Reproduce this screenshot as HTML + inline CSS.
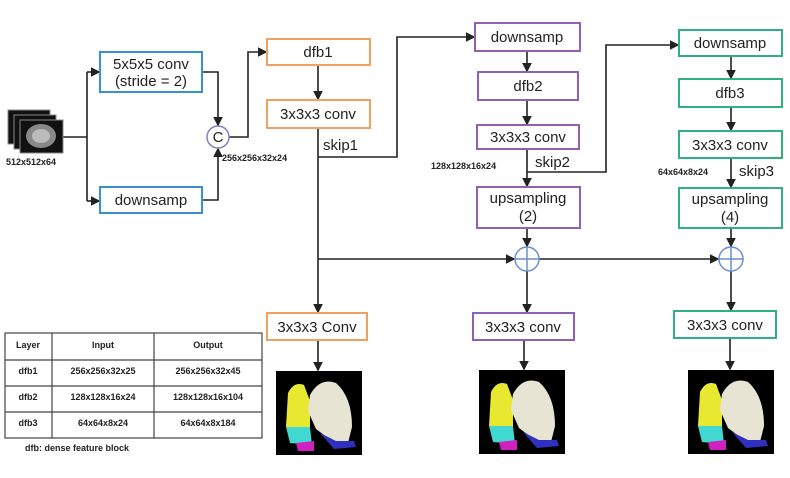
<!DOCTYPE html>
<html><head><meta charset="utf-8"><style>
body{margin:0;background:#fff}
svg{display:block;font-family:"Liberation Sans",sans-serif}
.b{font-size:15px;fill:#222;text-anchor:middle}
.s{font-size:9px;font-weight:bold;fill:#222}
.t{font-size:9px;font-weight:bold;fill:#222;text-anchor:middle}
</style></head><body>
<svg width="790" height="478" viewBox="0 0 790 478" xmlns="http://www.w3.org/2000/svg">
<defs><marker id="a" markerWidth="6" markerHeight="6" refX="5" refY="3" orient="auto"><path d="M0,0 L6,3 L0,6z" fill="#222"/></marker>
<g id="lung">
<rect x="0" y="0" width="86" height="84" fill="#000"/>
<path d="M12,22 Q18,10 28,14 L34,30 L34,58 L20,62 L10,56z" fill="#e8e830"/>
<path d="M10,56 L34,56 L36,74 L14,72z" fill="#40d8d0"/>
<path d="M20,72 L38,70 L38,80 L22,80z" fill="#d020c0"/>
<path d="M34,24 Q44,6 60,12 Q76,26 76,56 L72,72 L56,70 L40,58 L32,40z" fill="#e8e4d4"/>
<path d="M44,62 L60,70 L78,70 L80,76 L58,78z" fill="#3030c0"/>
</g></defs>
<g fill="none" stroke="#222" stroke-width="1.6">
<path d="M63,137 H87"/><path d="M87,72 V201"/>
<path d="M87,72 H99" marker-end="url(#a)"/><path d="M87,201 H99" marker-end="url(#a)"/>
<path d="M202,72 H218 V125" marker-end="url(#a)"/><path d="M202,200 H218 V149" marker-end="url(#a)"/>
<path d="M229,137 H248 V52 H266" marker-end="url(#a)"/>
<path d="M318,65 V99" marker-end="url(#a)"/>
<path d="M318,128 V312" marker-end="url(#a)"/>
<path d="M318,157 H397 V37 H474" marker-end="url(#a)"/>
<path d="M527,51 V71" marker-end="url(#a)"/>
<path d="M527,100 V124" marker-end="url(#a)"/>
<path d="M527,149 V186" marker-end="url(#a)"/>
<path d="M527,172 H606 V45 H678" marker-end="url(#a)"/>
<path d="M731,56 V78" marker-end="url(#a)"/>
<path d="M731,107 V130" marker-end="url(#a)"/>
<path d="M731,158 V187" marker-end="url(#a)"/>
<path d="M527,228 V246" marker-end="url(#a)"/><path d="M731,228 V246" marker-end="url(#a)"/>
<path d="M318,259 H514" marker-end="url(#a)"/><path d="M539,259 H718" marker-end="url(#a)"/>
<path d="M527,271 V312" marker-end="url(#a)"/><path d="M731,271 V310" marker-end="url(#a)"/>
<path d="M318,340 V370" marker-end="url(#a)"/><path d="M524,340 V369" marker-end="url(#a)"/><path d="M730,338 V369" marker-end="url(#a)"/>
</g>
<circle cx="218" cy="137" r="11" fill="#fff" stroke="#8080c0" stroke-width="1.5"/>
<text x="218" y="142" class="b" font-size="13">C</text>
<g stroke="#6a8fd0" stroke-width="1.5" fill="#fff">
<circle cx="527" cy="259" r="12"/><path d="M515,259H539M527,247V271"/>
<circle cx="731" cy="259" r="12"/><path d="M719,259H743M731,247V271"/>
</g>
<g fill="#fff" stroke-width="2">
<rect x="100" y="52" width="102" height="40" stroke="#3a8fd0"/>
<rect x="100" y="187" width="102" height="26" stroke="#3a8fd0"/>
<rect x="267" y="39" width="103" height="26" stroke="#f0a060"/>
<rect x="267" y="100" width="103" height="28" stroke="#f0a060"/>
<rect x="267" y="313" width="100" height="27" stroke="#f0a060"/>
<rect x="475" y="23" width="105" height="28" stroke="#9060b8"/>
<rect x="478" y="72" width="100" height="28" stroke="#9060b8"/>
<rect x="477" y="125" width="102" height="24" stroke="#9060b8"/>
<rect x="477" y="187" width="103" height="41" stroke="#9060b8"/>
<rect x="473" y="313" width="101" height="27" stroke="#9060b8"/>
<rect x="679" y="30" width="103" height="26" stroke="#30b080"/>
<rect x="679" y="79" width="103" height="28" stroke="#30b080"/>
<rect x="679" y="131" width="103" height="27" stroke="#30b080"/>
<rect x="679" y="188" width="103" height="40" stroke="#30b080"/>
<rect x="674" y="311" width="102" height="27" stroke="#30b080"/>
</g>
<text x="151" y="69" class="b">5x5x5 conv</text><text x="151" y="86" class="b">(stride = 2)</text>
<text x="151" y="205" class="b">downsamp</text>
<text x="318" y="57" class="b">dfb1</text>
<text x="318" y="119" class="b">3x3x3 conv</text>
<text x="317" y="332" class="b">3x3x3 Conv</text>
<text x="527" y="42" class="b">downsamp</text>
<text x="528" y="91" class="b">dfb2</text>
<text x="528" y="142" class="b">3x3x3 conv</text>
<text x="528" y="203" class="b">upsampling</text><text x="528" y="221" class="b">(2)</text>
<text x="523" y="332" class="b">3x3x3 conv</text>
<text x="730" y="48" class="b">downsamp</text>
<text x="730" y="98" class="b">dfb3</text>
<text x="730" y="150" class="b">3x3x3 conv</text>
<text x="730" y="204" class="b">upsampling</text><text x="730" y="222" class="b">(4)</text>
<text x="725" y="330" class="b">3x3x3 conv</text>
<text x="323" y="150" class="b" style="text-anchor:start">skip1</text>
<text x="535" y="167" class="b" style="text-anchor:start">skip2</text>
<text x="739" y="176" class="b" style="text-anchor:start">skip3</text>
<text x="222" y="161" class="s">256x256x32x24</text>
<text x="431" y="169" class="s">128x128x16x24</text>
<text x="658" y="175" class="s">64x64x8x24</text>
<text x="6" y="165" class="s">512x512x64</text>
<g stroke="#888" stroke-width="1"><rect x="8" y="110" width="42" height="34" fill="#111"/><rect x="14" y="115" width="42" height="34" fill="#111"/><rect x="20" y="120" width="43" height="33" fill="#111"/></g>
<ellipse cx="41" cy="136" rx="15" ry="12" fill="#888"/><ellipse cx="41" cy="136" rx="9" ry="7" fill="#bbb"/>
<use href="#lung" x="276" y="371"/><use href="#lung" x="479" y="370"/><use href="#lung" x="688" y="370"/>
<g stroke="#444" stroke-width="1.2" fill="none">
<rect x="5" y="333" width="257" height="105"/>
<path d="M52,333V438M154,333V438M5,360H262M5,386H262M5,412H262"/>
</g>
<text x="28" y="348" class="t">Layer</text><text x="103" y="348" class="t">Input</text><text x="208" y="348" class="t">Output</text>
<text x="28" y="374" class="t">dfb1</text><text x="103" y="374" class="t">256x256x32x25</text><text x="208" y="374" class="t">256x256x32x45</text>
<text x="28" y="400" class="t">dfb2</text><text x="103" y="400" class="t">128x128x16x24</text><text x="208" y="400" class="t">128x128x16x104</text>
<text x="28" y="426" class="t">dfb3</text><text x="103" y="426" class="t">64x64x8x24</text><text x="208" y="426" class="t">64x64x8x184</text>
<text x="25" y="451" class="s" font-size="10">dfb: dense feature block</text>
</svg>
</body></html>
